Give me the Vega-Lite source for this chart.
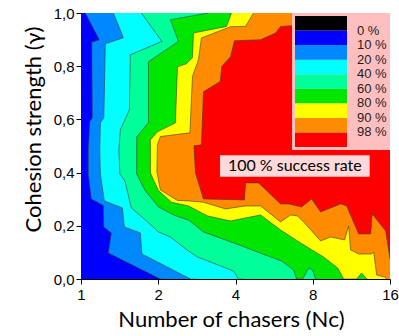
{
  "$schema": "https://vega.github.io/schema/vega-lite/v6.json",
  "width": 309,
  "height": 266,
  "autosize": {"type": "none"},
  "padding": {"left": 81, "top": 13, "right": 9, "bottom": 57},
  "background": "#ffffff",
  "config": {
    "view": {"stroke": null},
    "axis": {"zindex": 1, "grid": false, "domainColor": "#000000", "tickColor": "#000000", "tickSize": 5, "labelFont": "Liberation Sans", "labelFontSize": 15, "labelColor": "#000000", "labelFlush": false, "titleFont": "Lato", "titleFontSize": 22, "titleFontWeight": "normal", "titleColor": "#000000"}
  },
  "layer": [
    {
      "data": {"values": [
        {"rate":0,"i":1,"n":0.9,"g":-0.04},{"rate":0,"i":2,"n":18,"g":-0.04},{"rate":0,"i":3,"n":18,"g":1.04},{"rate":0,"i":4,"n":0.9,"g":1.04},

        {"rate":10,"i":1,"n":1.0394,"g":1.04},{"rate":10,"i":2,"n":1.0394,"g":1.0},{"rate":10,"i":3,"n":1.1787,"g":0.8995},{"rate":10,"i":4,"n":1.1019,"g":0.8901},{"rate":10,"i":5,"n":1.1068,"g":0.606},{"rate":10,"i":6,"n":1.0823,"g":0.5909},{"rate":10,"i":7,"n":1.0678,"g":0.4855},{"rate":10,"i":8,"n":1.0678,"g":0.3952},{"rate":10,"i":9,"n":1.097,"g":0.3011},{"rate":10,"i":10,"n":1.2218,"g":0.2766},{"rate":10,"i":11,"n":1.2273,"g":0.1957},{"rate":10,"i":12,"n":1.3129,"g":0.1731},{"rate":10,"i":13,"n":1.278,"g":0.0979},{"rate":10,"i":14,"n":2.0389,"g":0},{"rate":10,"i":15,"n":18,"g":-0.04},{"rate":10,"i":16,"n":18,"g":1.04},

        {"rate":20,"i":1,"n":1.3367,"g":1.04},{"rate":20,"i":2,"n":1.3367,"g":1.0},{"rate":20,"i":3,"n":1.4624,"g":0.907},{"rate":20,"i":4,"n":1.244,"g":0.8845},{"rate":20,"i":5,"n":1.2273,"g":0.606},{"rate":20,"i":6,"n":1.1893,"g":0.5871},{"rate":20,"i":7,"n":1.184,"g":0.4855},{"rate":20,"i":8,"n":1.1893,"g":0.3952},{"rate":20,"i":9,"n":1.2329,"g":0.2936},{"rate":20,"i":10,"n":1.4493,"g":0.2672},{"rate":20,"i":11,"n":1.4756,"g":0.1957},{"rate":20,"i":12,"n":1.7036,"g":0.1731},{"rate":20,"i":13,"n":1.7267,"g":0.0941},{"rate":20,"i":14,"n":2.6698,"g":0},{"rate":20,"i":15,"n":18,"g":-0.04},{"rate":20,"i":16,"n":18,"g":1.04},

        {"rate":40,"i":1,"n":1.719,"g":1.04},{"rate":40,"i":2,"n":1.719,"g":1.0},{"rate":40,"i":3,"n":2.0666,"g":0.8931},{"rate":40,"i":4,"n":1.5573,"g":0.8431},{"rate":40,"i":5,"n":1.5433,"g":0.6361},{"rate":40,"i":6,"n":1.4235,"g":0.5608},{"rate":40,"i":7,"n":1.4044,"g":0.4855},{"rate":40,"i":8,"n":1.4171,"g":0.3952},{"rate":40,"i":9,"n":1.4822,"g":0.3688},{"rate":40,"i":10,"n":1.5713,"g":0.2672},{"rate":40,"i":11,"n":1.7819,"g":0.2221},{"rate":40,"i":12,"n":2.0027,"g":0.1769},{"rate":40,"i":13,"n":2.2307,"g":0.1581},{"rate":40,"i":14,"n":2.6222,"g":0.1054},{"rate":40,"i":15,"n":2.8431,"g":0.0828},{"rate":40,"i":16,"n":3.9288,"g":0.0301},{"rate":40,"i":17,"n":4.1093,"g":0},{"rate":40,"i":18,"n":18,"g":-0.04},{"rate":40,"i":19,"n":18,"g":1.04},

        {"rate":60,"i":1,"n":3.1384,"g":1.04},{"rate":60,"i":2,"n":3.1384,"g":1.0},{"rate":60,"i":3,"n":2.2307,"g":0.9748},{"rate":60,"i":4,"n":2.3969,"g":0.8931},{"rate":60,"i":5,"n":1.8306,"g":0.8167},{"rate":60,"i":6,"n":1.8306,"g":0.5871},{"rate":60,"i":7,"n":1.6479,"g":0.5344},{"rate":60,"i":8,"n":1.6479,"g":0.3952},{"rate":60,"i":9,"n":1.7771,"g":0.3323},{"rate":60,"i":10,"n":2.0027,"g":0.271},{"rate":60,"i":11,"n":2.3269,"g":0.2382},{"rate":60,"i":12,"n":2.6222,"g":0.2221},{"rate":60,"i":13,"n":3.0005,"g":0.1769},{"rate":60,"i":14,"n":4.0361,"g":0.1317},{"rate":60,"i":15,"n":5.0983,"g":0.0941},{"rate":60,"i":16,"n":6.0474,"g":0.0677},{"rate":60,"i":17,"n":6.7357,"g":0.0339},{"rate":60,"i":18,"n":6.9197,"g":0},{"rate":60,"i":19,"n":7.3029,"g":0},{"rate":60,"i":20,"n":7.7074,"g":0.0414},{"rate":60,"i":21,"n":7.9895,"g":0.0339},{"rate":60,"i":22,"n":8.2077,"g":0},{"rate":60,"i":23,"n":18,"g":-0.04},{"rate":60,"i":24,"n":18,"g":1.04},

        {"rate":80,"i":1,"n":3.8588,"g":1.04},{"rate":80,"i":2,"n":3.8588,"g":1.0},{"rate":80,"i":3,"n":3.6893,"g":0.9496},{"rate":80,"i":4,"n":2.7427,"g":0.9247},{"rate":80,"i":5,"n":2.7182,"g":0.8318},{"rate":80,"i":6,"n":2.5755,"g":0.8092},{"rate":80,"i":7,"n":2.3755,"g":0.7979},{"rate":80,"i":8,"n":2.3332,"g":0.5871},{"rate":80,"i":9,"n":1.9848,"g":0.5533},{"rate":80,"i":10,"n":1.8638,"g":0.5232},{"rate":80,"i":11,"n":1.8638,"g":0.3989},{"rate":80,"i":12,"n":2.0027,"g":0.3323},{"rate":80,"i":13,"n":2.2508,"g":0.2887},{"rate":80,"i":14,"n":2.6222,"g":0.2747},{"rate":80,"i":15,"n":3.1104,"g":0.2371},{"rate":80,"i":16,"n":3.8243,"g":0.2183},{"rate":80,"i":17,"n":5.0075,"g":0.2409},{"rate":80,"i":18,"n":5.9933,"g":0.1844},{"rate":80,"i":19,"n":7.1729,"g":0.1355},{"rate":80,"i":20,"n":8.8193,"g":0.0828},{"rate":80,"i":21,"n":10.0014,"g":0.0414},{"rate":80,"i":22,"n":10.4609,"g":0.0075},{"rate":80,"i":23,"n":10.5553,"g":0},{"rate":80,"i":24,"n":11.863,"g":0},{"rate":80,"i":25,"n":12.408,"g":0.0226},{"rate":80,"i":26,"n":12.978,"g":0},{"rate":80,"i":27,"n":18,"g":-0.04},{"rate":80,"i":28,"n":18,"g":1.04},

        {"rate":90,"i":1,"n":4.7022,"g":1.04},{"rate":90,"i":2,"n":4.7022,"g":1.0},{"rate":90,"i":3,"n":4.3761,"g":0.9496},{"rate":90,"i":4,"n":3.8243,"g":0.9484},{"rate":90,"i":5,"n":2.9471,"g":0.9059},{"rate":90,"i":6,"n":2.8687,"g":0.8242},{"rate":90,"i":7,"n":2.7182,"g":0.7614},{"rate":90,"i":8,"n":2.6578,"g":0.5495},{"rate":90,"i":9,"n":2.0389,"g":0.5356},{"rate":90,"i":10,"n":1.9848,"g":0.5043},{"rate":90,"i":11,"n":1.9759,"g":0.4027},{"rate":90,"i":12,"n":2.0389,"g":0.335},{"rate":90,"i":13,"n":2.3755,"g":0.2954},{"rate":90,"i":14,"n":2.6222,"g":0.2936},{"rate":90,"i":15,"n":3.0005,"g":0.2887},{"rate":90,"i":16,"n":3.6563,"g":0.2635},{"rate":90,"i":17,"n":4.3761,"g":0.2747},{"rate":90,"i":18,"n":5.0075,"g":0.2747},{"rate":90,"i":19,"n":5.9933,"g":0.2145},{"rate":90,"i":20,"n":6.5566,"g":0.2409},{"rate":90,"i":21,"n":6.9822,"g":0.2371},{"rate":90,"i":22,"n":7.4353,"g":0.2108},{"rate":90,"i":23,"n":8.5848,"g":0.143},{"rate":90,"i":24,"n":9.3918,"g":0.1581},{"rate":90,"i":25,"n":10.6505,"g":0.1468},{"rate":90,"i":26,"n":11.0402,"g":0.1995},{"rate":90,"i":27,"n":11.2404,"g":0.1091},{"rate":90,"i":28,"n":12.0781,"g":0.0941},{"rate":90,"i":29,"n":13.5745,"g":0.0941},{"rate":90,"i":30,"n":13.8207,"g":0.1016},{"rate":90,"i":31,"n":14.1982,"g":0.0151},{"rate":90,"i":32,"n":15.2564,"g":0.0075},{"rate":90,"i":33,"n":15.533,"g":0},{"rate":90,"i":34,"n":18,"g":-0.04},{"rate":90,"i":35,"n":18,"g":1.04},

        {"rate":98,"i":1,"n":6.6755,"g":1.04},{"rate":98,"i":2,"n":6.6755,"g":0.9522},{"rate":98,"i":3,"n":5.9933,"g":0.9496},{"rate":98,"i":4,"n":5.7301,"g":0.9247},{"rate":98,"i":5,"n":5.0075,"g":0.8995},{"rate":98,"i":6,"n":3.9642,"g":0.8958},{"rate":98,"i":7,"n":3.8243,"g":0.8355},{"rate":98,"i":8,"n":3.5367,"g":0.799},{"rate":98,"i":9,"n":3.4862,"g":0.7426},{"rate":98,"i":10,"n":3.0005,"g":0.7038},{"rate":98,"i":11,"n":2.9471,"g":0.5043},{"rate":98,"i":12,"n":2.7551,"g":0.5006},{"rate":98,"i":13,"n":2.7925,"g":0.3989},{"rate":98,"i":14,"n":3.0005,"g":0.3011},{"rate":98,"i":15,"n":4.3369,"g":0.2973},{"rate":98,"i":16,"n":4.3761,"g":0.3613},{"rate":98,"i":17,"n":4.9183,"g":0.3613},{"rate":98,"i":18,"n":5.9933,"g":0.2823},{"rate":98,"i":19,"n":6.4398,"g":0.2823},{"rate":98,"i":20,"n":7.2376,"g":0.271},{"rate":98,"i":21,"n":7.918,"g":0.3011},{"rate":98,"i":22,"n":8.5848,"g":0.2522},{"rate":98,"i":23,"n":10.2746,"g":0.2823},{"rate":98,"i":24,"n":10.8436,"g":0.2747},{"rate":98,"i":25,"n":12.0781,"g":0.1694},{"rate":98,"i":26,"n":13.453,"g":0.1694},{"rate":98,"i":27,"n":13.6356,"g":0.2446},{"rate":98,"i":28,"n":15.394,"g":0.1807},{"rate":98,"i":29,"n":16,"g":0.0753},{"rate":98,"i":30,"n":18,"g":0.0753},{"rate":98,"i":31,"n":18,"g":1.04}
      ]},
      "transform": [{"calculate": "-indexof([0, 10, 20, 40, 60, 80, 90, 98], datum.rate)", "as": "band"}],
      "mark": {"type": "line", "interpolate": "linear-closed", "stroke": "#3c3c3c", "strokeWidth": 0.6, "clip": true},
      "encoding": {
        "x": {"field": "n", "type": "quantitative", "scale": {"type": "log", "base": 2, "domain": [1, 16], "nice": false},
              "axis": {"values": [1, 2, 4, 8, 16], "format": "d", "labelPadding": 3, "title": "Number of chasers (Nᴄ)", "titlePadding": 7, "titleX": 150}},
        "y": {"field": "g", "type": "quantitative", "scale": {"domain": [0, 1], "nice": false, "zero": false},
              "axis": {"values": [0, 0.1, 0.2, 0.3, 0.4, 0.5, 0.6, 0.7, 0.8, 0.9, 1.0], "labelExpr": "round(datum.value*10) % 2 == 0 ? replace(format(datum.value, '.1f'), '.', ',') : ''", "labelPadding": 2, "title": "Cohesion strength (γ)", "titlePadding": 8, "titleY": 116}},
        "order": {"field": "i", "type": "quantitative"},
        "detail": {"field": "rate", "type": "nominal"},
        "fill": {"field": "band", "type": "quantitative",
                 "scale": {"type": "threshold", "domain": [-6.5, -5.5, -4.5, -3.5, -2.5, -1.5, -0.5, 0.5],
                           "range": ["#ff0000", "#ff8c00", "#ffff00", "#00e600", "#00ff99", "#00ffff", "#0088ff", "#0000ff", "#000000"]},
                 "legend": {"type": "gradient", "orient": "top-right", "offset": 0, "title": null, "direction": "vertical", "zindex": 2,
                            "gradientLength": 131, "gradientThickness": 52, "gradientStrokeWidth": 0,
                            "labelFont": "Liberation Sans", "labelFontSize": 13, "labelColor": "#222222", "labelAlign": "right", "labelOffset": 10, "labelOverlap": false,
                            "labelExpr": "isFinite(datum.value) ? [0, 10, 20, 40, 60, 80, 90, 98][round(0.5 - datum.value)] + ' %\u00a0' : ''", "padding": 3, "fillColor": "#ffbfbf"}}
      }
    },
    {
      "data": {"values": [{"n": 3.48, "n2": 13.33, "g": 0.384, "g2": 0.465}]},
      "mark": {"type": "rect", "fill": "#ffd9d9", "stroke": null},
      "encoding": {
        "x": {"field": "n", "type": "quantitative"}, "x2": {"field": "n2"},
        "y": {"field": "g", "type": "quantitative"}, "y2": {"field": "g2"}
      }
    },
    {
      "data": {"values": [{"n": 6.81, "g": 0.424, "label": "100 % success rate"}]},
      "mark": {"type": "text", "font": "Lato", "fontSize": 16, "color": "#000000", "align": "center", "baseline": "middle"},
      "encoding": {
        "x": {"field": "n", "type": "quantitative"},
        "y": {"field": "g", "type": "quantitative"},
        "text": {"field": "label"}
      }
    }
  ]
}
